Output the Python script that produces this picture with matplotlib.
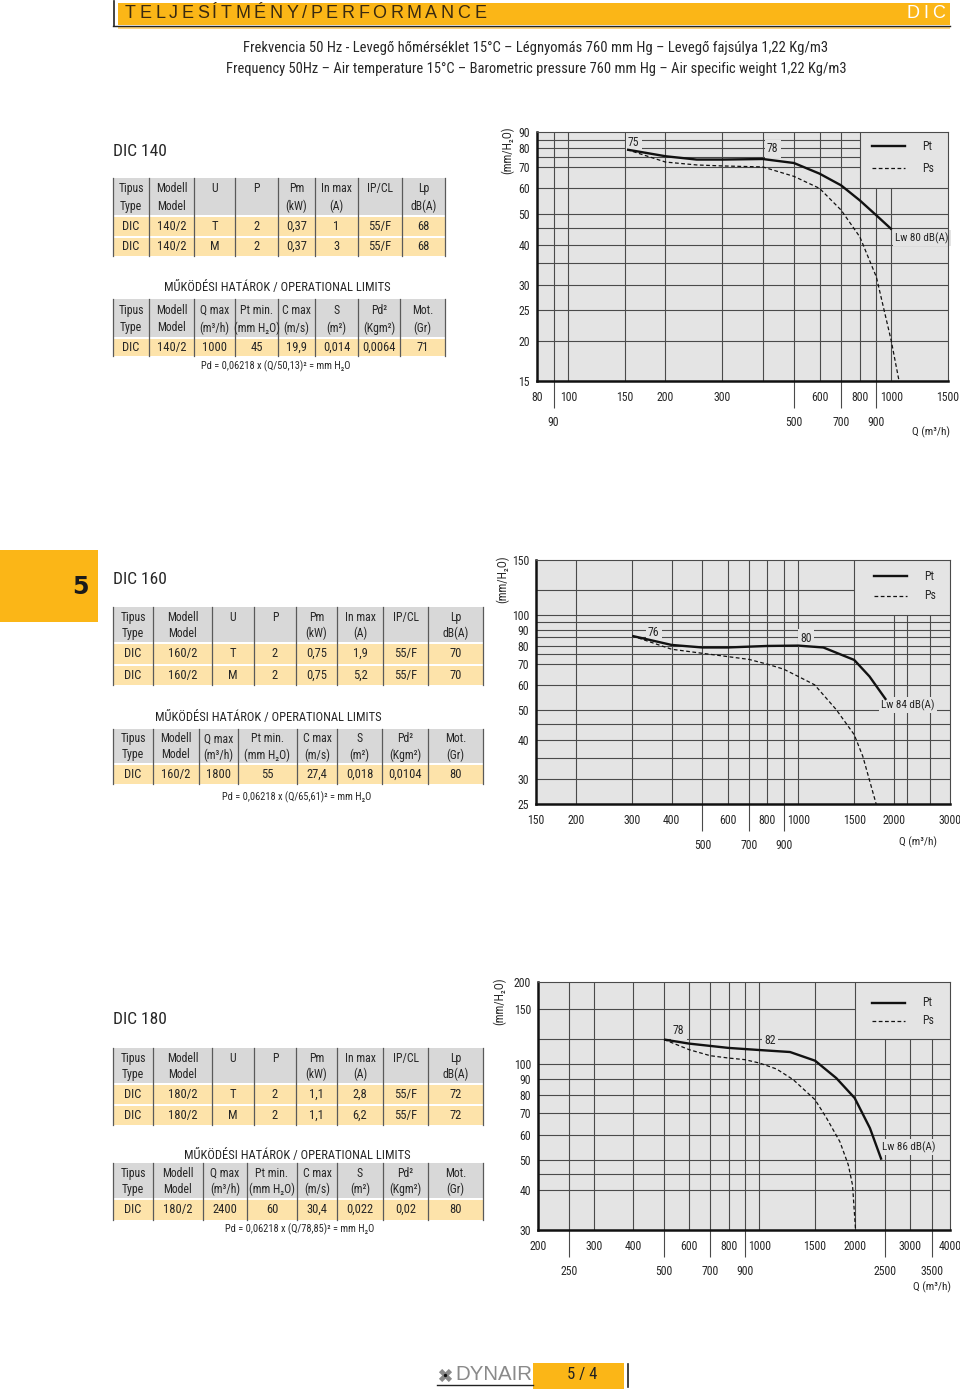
import matplotlib.pyplot as plt
from matplotlib import font_manager
from matplotlib.patches import Rectangle
from matplotlib.ticker import NullLocator

# --- table data ---
head_main = [('Tipus', 'Type'), ('Modell', 'Model'), ('U', ''), ('P', ''), ('Pm', '(kW)'),
             ('In max', '(A)'), ('IP/CL', ''), ('Lp', 'dB(A)')]
head_limits = [('Tipus', 'Type'), ('Modell', 'Model'), ('Q max', '(m³/h)'), ('Pt min.', '(mm H₂O)'),
               ('C max', '(m/s)'), ('S', '(m²)'), ('Pd²', '(Kgm²)'), ('Mot.', '(Gr)')]

rows140 = [['DIC', '140/2', 'T', '2', '0,37', '1', '55/F', '68'],
           ['DIC', '140/2', 'M', '2', '0,37', '3', '55/F', '68']]
limits140 = [['DIC', '140/2', '1000', '45', '19,9', '0,014', '0,0064', '71']]
rows160 = [['DIC', '160/2', 'T', '2', '0,75', '1,9', '55/F', '70'],
           ['DIC', '160/2', 'M', '2', '0,75', '5,2', '55/F', '70']]
limits160 = [['DIC', '160/2', '1800', '55', '27,4', '0,018', '0,0104', '80']]
rows180 = [['DIC', '180/2', 'T', '2', '1,1', '2,8', '55/F', '72'],
           ['DIC', '180/2', 'M', '2', '1,1', '6,2', '55/F', '72']]
limits180 = [['DIC', '180/2', '2400', '60', '30,4', '0,022', '0,02', '80']]

limits_title = 'MŰKÖDÉSI HATÁROK / OPERATIONAL LIMITS'
formula140 = 'Pd = 0,06218 x (Q/50,13)² = mm H₂O'
formula160 = 'Pd = 0,06218 x (Q/65,61)² = mm H₂O'
formula180 = 'Pd = 0,06218 x (Q/78,85)² = mm H₂O'

# --- curve data (Q m3/h, pressure mm H2O) ---
q140_pt = [152, 200, 250, 300, 400, 500, 600, 700, 800, 900, 1005]
pt140 = [79.3, 75.6, 73.8, 73.8, 74.1, 72.0, 66.7, 61.3, 55.0, 49.4, 44.6]
q140_ps = [152, 200, 250, 300, 400, 500, 600, 700, 800, 900, 1000, 1058]
ps140 = [79.3, 72.5, 71.0, 70.5, 70.0, 65.4, 60.0, 51.3, 42.3, 31.7, 20.1, 15.0]

q160_pt = [301, 400, 500, 600, 800, 1000, 1200, 1500, 1675, 1890]
pt160 = [85.9, 80.4, 78.9, 78.9, 79.8, 80.0, 78.9, 72.0, 63.8, 53.7]
q160_ps = [301, 400, 500, 600, 700, 800, 900, 1000, 1126, 1317, 1500, 1596, 1758]
ps160 = [85.9, 77.9, 75.6, 73.8, 72.3, 69.8, 67.3, 63.8, 60.0, 50.0, 41.6, 35.5, 25.0]

q180_pt = [500, 600, 800, 1000, 1250, 1500, 1750, 2000, 2235, 2430]
pt180 = [119.8, 116.3, 112.7, 111.0, 109.4, 102.7, 90.5, 78.3, 62.9, 50.0]
q180_ps = [500, 600, 700, 800, 900, 1000, 1133, 1279, 1500, 1630, 1796, 1909, 1969, 2013]
ps180 = [119.8, 111.3, 106.5, 104.7, 103.5, 101.0, 96.7, 89.5, 77.3, 67.7, 57.0, 48.2, 41.6, 30.0]

# pick a narrow sans if one is installed, otherwise shrink the regular one
CONDENSED = ('condensed', 'semi-condensed', 'extra-condensed', 'ultra-condensed')
cond_fams = {f.name for f in font_manager.fontManager.ttflist
             if f.stretch in CONDENSED or 'Narrow' in f.name or 'Condensed' in f.name}
pref = ['Liberation Sans Narrow', 'Arial Narrow', 'Noto Sans Condensed', 'Roboto Condensed',
        'Noto Sans', 'Open Sans Condensed', 'Open Sans', 'Roboto', 'DejaVu Sans Condensed']
main_font = next((p for p in pref if p in cond_fams), None)
if main_font:
    SCALE = 1.0
    plt.rcParams['font.stretch'] = 'condensed'
else:
    main_font = 'Liberation Sans'
    SCALE = 0.85
plt.rcParams['font.family'] = [main_font, 'DejaVu Sans']


def fs(size):
    return size * SCALE


W, H = 960, 1394
ORANGE = '#fbb617'
HEAD_GRAY = '#d8d8d8'
ROW_ORANGE = '#fde3aa'
PANEL = '#e4e4e4'
GRID = '#4a4a4a'
INK = '#262626'

fig = plt.figure(figsize=(W / 100, H / 100), dpi=100)
bg = fig.add_axes([0, 0, 1, 1])
bg.set_xlim(0, W)
bg.set_ylim(H, 0)
bg.axis('off')
bg.set_zorder(-1)
renderer = fig.canvas.get_renderer()


def fxy(x, y):
    return x / W, 1 - y / H


def spaced_text(x0, x1, y, s, **kw):
    pieces = [bg.text(0, y, ch, va='center', ha='left', **kw) for ch in s]
    widths = [p.get_window_extent(renderer).width for p in pieces]
    gap = (x1 - x0 - sum(widths)) / (len(s) - 1)
    x = x0
    for p, w in zip(pieces, widths):
        p.set_x(x)
        x += w + gap


def fit_text(x, y, s, width, size, **kw):
    t = bg.text(x, y, s, fontsize=size, ha='center', va='center', **kw)
    w = t.get_window_extent(renderer).width
    t.set_fontsize(size * width / w)


def draw_table(edges, top, head_h, row_h, head, rows):
    left, right = edges[0], edges[-1]
    bg.add_patch(Rectangle((left, top), right - left, head_h, color=HEAD_GRAY, lw=0))
    for i, (a, b) in enumerate(head):
        cx = (edges[i] + edges[i + 1]) / 2
        bg.text(cx, top + head_h * 0.29, a, ha='center', va='center', fontsize=fs(8.5), color=INK)
        if b:
            bg.text(cx, top + head_h * 0.76, b, ha='center', va='center', fontsize=fs(8.5), color=INK)
    y = top + head_h + 2
    for row in rows:
        bg.add_patch(Rectangle((left, y), right - left, row_h, color=ROW_ORANGE, lw=0))
        for i, val in enumerate(row):
            cx = (edges[i] + edges[i + 1]) / 2
            bg.text(cx, y + row_h / 2, val, ha='center', va='center', fontsize=fs(9), color=INK)
        y += row_h + 2
    for x in edges:
        bg.plot([x, x], [top, y - 2], color='#5a5a5a', lw=0.9)


def draw_chart(box, xlim, ylim, vfull, vpart, vpart_top, hfull, hpart, hpart_right,
               xt1, xt2, yt, yt_labels, q_pt, pt, q_ps, ps):
    left, top, right, bottom = box
    ax = fig.add_axes([left / W, 1 - bottom / H, (right - left) / W, (bottom - top) / H])
    ax.set_xscale('log')
    ax.set_yscale('log')
    ax.set_xlim(*xlim)
    ax.set_ylim(*ylim)
    ax.set_facecolor(PANEL)

    for x in vfull:
        ax.axvline(x, color=GRID, lw=0.8, zorder=1)
    ax.vlines(vpart, ylim[0], vpart_top, color=GRID, lw=0.8, zorder=1)
    for y in hfull:
        ax.axhline(y, color=GRID, lw=0.8, zorder=1)
    ax.hlines(hpart, xlim[0], hpart_right, color=GRID, lw=0.8, zorder=1)

    ax.plot(q_pt, pt, color='#111111', lw=1.7, zorder=3, solid_capstyle='butt')
    ax.plot(q_ps, ps, color='#111111', lw=0.9, ls=(0, (3, 2)), zorder=3)

    for side in ['left', 'bottom']:
        ax.spines[side].set_linewidth(1.8)
        ax.spines[side].set_color('#111111')
    for side in ['top', 'right']:
        ax.spines[side].set_linewidth(0.8)
        ax.spines[side].set_color(GRID)

    ax.set_xticks(xt1, [str(v) for v in xt1])
    ax.set_xticks(xt2, [str(v) for v in xt2], minor=True)
    ax.set_yticks(yt, yt_labels)
    ax.yaxis.set_minor_locator(NullLocator())
    ax.tick_params(axis='x', which='major', length=0, pad=7, labelsize=fs(8.5), labelcolor=INK)
    ax.tick_params(axis='x', which='minor', length=19.5, width=0.8, color=GRID, pad=5.5,
                   labelsize=fs(8.5), labelcolor=INK)
    ax.tick_params(axis='y', which='major', length=0, pad=5, labelsize=fs(8.5), labelcolor=INK)
    return ax


def chart_text(ax, x, y, s, ha='left', boxed=True, size=8.5):
    kw = dict(transform=fig.transFigure, ha=ha, va='center', fontsize=fs(size), color=INK, zorder=2)
    if boxed:
        kw['bbox'] = dict(boxstyle='square,pad=0.2', fc=PANEL, ec='none')
    ax.text(*fxy(x, y), s, **kw)


def legend(ax, x0, x1, y_pt, y_ps, x_txt):
    ax.plot([x0 / W, x1 / W], [1 - y_pt / H] * 2, transform=fig.transFigure, color='#111111',
            lw=1.7, clip_on=False, zorder=4)
    ax.plot([x0 / W, x1 / W], [1 - y_ps / H] * 2, transform=fig.transFigure, color='#111111',
            lw=0.9, ls=(0, (3, 2)), clip_on=False, zorder=4)
    chart_text(ax, x_txt, y_pt, 'Pt', boxed=False)
    chart_text(ax, x_txt, y_ps, 'Ps', boxed=False)


# header
bg.add_patch(Rectangle((118, 3), 832, 22, color=ORANGE, lw=0))
bg.add_patch(Rectangle((118, 26), 832, 3, color='#fdd47e', lw=0))
bg.plot([113, 950], [25.5, 25.5], color='#222222', lw=1)
bg.plot([113.5, 113.5], [1, 26], color='#222222', lw=1.2)
spaced_text(125, 486, 14, 'TELJESÍTMÉNY/PERFORMANCE', fontsize=13, color='#3a2a10',
            family='Liberation Sans', fontstretch='normal')
spaced_text(907, 945, 14, 'DIC', fontsize=13, color='white', family='Liberation Sans', fontstretch='normal')
fit_text(536, 48, 'Frekvencia 50 Hz - Levegő hőmérséklet 15°C – Légnyomás 760 mm Hg – Levegő fajsúlya 1,22 Kg/m3',
         582, 10, color=INK)
fit_text(536, 69, 'Frequency 50Hz – Air temperature 15°C – Barometric pressure 760 mm Hg – Air specific weight 1,22 Kg/m3',
         614, 10, color=INK)

# section tab
bg.add_patch(Rectangle((0, 550), 98, 72, color=ORANGE, lw=0))
bg.text(80, 587, '5', ha='center', va='center', fontsize=17, fontweight='bold', color='#1a1a1a',
        family='DejaVu Sans', fontstretch='normal')

# footer
bg.add_patch(Rectangle((533, 1363), 91, 26, color=ORANGE, lw=0))
bg.plot([437, 533], [1385, 1385], color='#222222', lw=1)
bg.plot([627.5, 627.5], [1364, 1387], color='#222222', lw=1.2)
bg.scatter([445], [1375], marker='X', s=90, color='#8a8a8a', lw=0)
bg.scatter([445], [1375], marker='o', s=6, color='#111111', lw=0)
fit_text(494, 1375, 'DYNAIR', 78, 14, color='#8a8a8a', family='Liberation Sans', fontstretch='normal')
bg.text(582, 1375, '5 / 4', ha='center', va='center', fontsize=12, color='#222222')

# DIC 140
bg.text(113, 151, 'DIC 140', ha='left', va='center', fontsize=fs(12.5), color=INK)
draw_table([113, 149, 194, 235, 278, 315, 358, 402, 445], 178, 37, 18.5, head_main, rows140)
bg.text(277, 287, limits_title, ha='center', va='center', fontsize=fs(9), color=INK)
draw_table([113, 149, 194, 235, 278, 315, 358, 400, 445], 299, 38, 17, head_limits, limits140)
bg.text(276, 366, formula140, ha='center', va='center', fontsize=fs(7.5), color=INK)

# DIC 160
bg.text(113, 579, 'DIC 160', ha='left', va='center', fontsize=fs(12.5), color=INK)
draw_table([113, 153, 212, 254, 296, 337, 383, 428, 483], 607, 35, 19.5, head_main, rows160)
bg.text(268, 717, limits_title, ha='center', va='center', fontsize=fs(9), color=INK)
draw_table([113, 153, 199, 238, 297, 337, 382, 428, 483], 729, 34, 19, head_limits, limits160)
bg.text(297, 797, formula160, ha='center', va='center', fontsize=fs(7.5), color=INK)

# DIC 180
bg.text(113, 1020, 'DIC 180', ha='left', va='center', fontsize=fs(12.5), color=INK)
draw_table([113, 153, 212, 254, 296, 337, 383, 428, 483], 1048, 35, 19, head_main, rows180)
bg.text(297, 1156, limits_title, ha='center', va='center', fontsize=fs(9), color=INK)
draw_table([113, 153, 203, 247, 297, 337, 383, 428, 483], 1163, 35, 19.5, head_limits, limits180)
bg.text(300, 1229, formula180, ha='center', va='center', fontsize=fs(7.5), color=INK)

# chart DIC 140
ax1 = draw_chart((537, 132, 948, 381), (80, 1500), (15, 90),
                 [90, 100, 150, 200, 300, 400, 500, 600, 700, 800], [900, 1000], 60,
                 [60, 50, 45, 40, 35, 30, 25, 20], [85, 80, 75, 70], 800,
                 [80, 100, 150, 200, 300, 600, 800, 1000, 1500], [90, 500, 700, 900],
                 [15, 20, 25, 30, 40, 50, 60, 70, 80, 90],
                 ['15', '20', '25', '30', '40', '50', '60', '70', '80', '90'],
                 q140_pt, pt140, q140_ps, ps140)
legend(ax1, 872, 905, 146, 168, 922)
chart_text(ax1, 628, 142, '75')
chart_text(ax1, 767, 149, '78')
chart_text(ax1, 895, 238, 'Lw 80 dB(A)', size=8)
chart_text(ax1, 950, 432, 'Q (m³/h)', ha='right', boxed=False, size=8)
fig.text(*fxy(508, 150), '(mm/H₂O)', rotation=90, ha='center', va='center', fontsize=fs(8.5), color=INK)

# chart DIC 160
ax2 = draw_chart((536, 560, 950, 804), (150, 3000), (25, 150),
                 [200, 300, 400, 500, 600, 700, 800, 900, 1000, 1500], [2000, 2200, 2600], 100,
                 [100, 95, 90, 85, 80, 75, 70, 60, 50, 45, 40, 35, 30], [120], 1500,
                 [150, 200, 300, 400, 600, 800, 1000, 1500, 2000, 3000], [500, 700, 900],
                 [25, 30, 40, 50, 60, 70, 80, 90, 100, 150],
                 ['25', '30', '40', '50', '60', '70', '80', '90', '100', '150'],
                 q160_pt, pt160, q160_ps, ps160)
legend(ax2, 874, 907, 576, 596, 924)
chart_text(ax2, 648, 633, '76')
chart_text(ax2, 800, 638, '80')
chart_text(ax2, 881, 705, 'Lw 84 dB(A)', size=8)
chart_text(ax2, 937, 842, 'Q (m³/h)', ha='right', boxed=False, size=8)
fig.text(*fxy(503, 579), '(mm/H₂O)', rotation=90, ha='center', va='center', fontsize=fs(8.5), color=INK)

# chart DIC 180 (top gridline of the original is labelled 200)
ax3 = draw_chart((538, 982, 950, 1230), (200, 4000), (30, 182),
                 [250, 300, 400, 500, 600, 700, 800, 900, 1000, 1500, 2000], [2500, 3000, 3500], 120,
                 [120, 100, 90, 80, 70, 60, 50, 45, 40], [150], 2000,
                 [200, 300, 400, 600, 800, 1000, 1500, 2000, 3000, 4000], [250, 500, 700, 900, 2500, 3500],
                 [30, 40, 50, 60, 70, 80, 90, 100, 150, 182],
                 ['30', '40', '50', '60', '70', '80', '90', '100', '150', '200'],
                 q180_pt, pt180, q180_ps, ps180)
legend(ax3, 872, 905, 1003, 1021, 922)
chart_text(ax3, 673, 1031, '78')
chart_text(ax3, 764, 1041, '82')
chart_text(ax3, 882, 1147, 'Lw 86 dB(A)', size=8)
chart_text(ax3, 951, 1287, 'Q (m³/h)', ha='right', boxed=False, size=8)
fig.text(*fxy(500, 1001), '(mm/H₂O)', rotation=90, ha='center', va='center', fontsize=fs(8.5), color=INK)

fig.savefig('out.png', dpi=100)
